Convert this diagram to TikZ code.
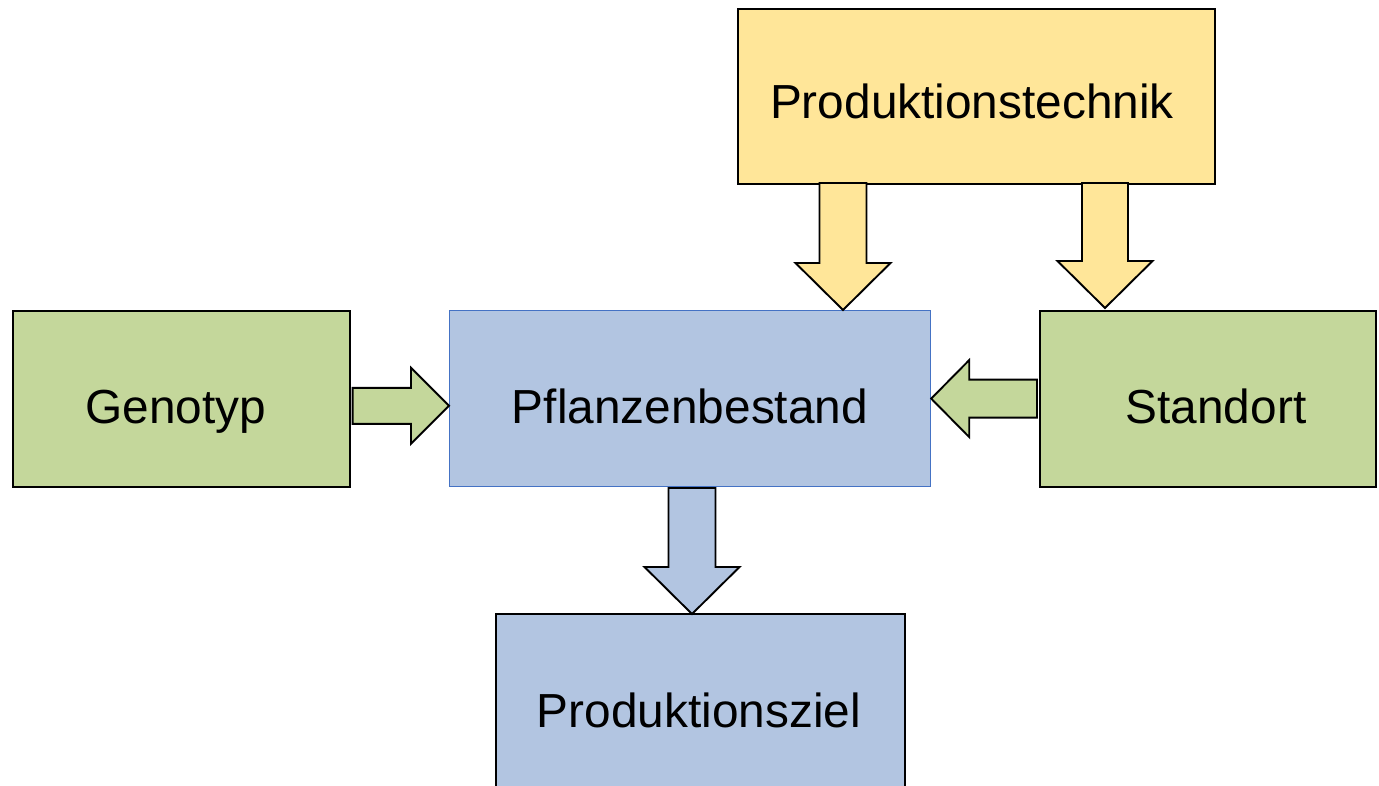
\documentclass[tikz,border=0pt]{standalone}
\usepackage{fontspec}
\setmainfont{Liberation Sans}
\usetikzlibrary{calc}
\definecolor{ylw}{HTML}{FFE699}
\definecolor{grn}{HTML}{C4D79B}
\definecolor{blu}{HTML}{B2C5E1}
\definecolor{bord}{HTML}{4472C4}
\tikzset{
  box/.style={draw=black, line width=1.6pt, inner sep=0pt, minimum width=#1, anchor=north west},
  lbl/.style={font=\fontsize{47.8}{57}\selectfont, inner sep=0pt, anchor=base},
  arr/.style={draw=black, line width=1.9pt, line join=miter},
}
% vertical block arrow: style, top coordinate, tip coordinate, shaft half, head half, head length
\newcommand\vblock[6]{%
  \draw[#1] let \p1=(#2), \p2=(#3) in
    (\x2-#4, \y1) -- (\x2-#4, \y2+#6) -- (\x2-#5, \y2+#6) -- (\x2, \y2)
    -- (\x2+#5, \y2+#6) -- (\x2+#4, \y2+#6) -- (\x2+#4, \y1) -- cycle;}
% horizontal block arrow: style, start, tip, shaft half, head half, head length
\newcommand\hblock[6]{%
  \draw[#1] let \p1=(#2), \p2=(#3), \n1={sign(\x2-\x1)} in
    (\x1, \y2+#4) -- (\x2-\n1*#6, \y2+#4) -- (\x2-\n1*#6, \y2+#5) -- (\x2, \y2)
    -- (\x2-\n1*#6, \y2-#5) -- (\x2-\n1*#6, \y2-#4) -- (\x1, \y2-#4) -- cycle;}
\begin{document}
\begin{tikzpicture}[x=1pt, y=-1pt]
\useasboundingbox (0,0) rectangle (1379,786);
\clip (0,0) rectangle (1379,786);
% boxes
\node[box=477pt, minimum height=175pt, fill=ylw] (tech) at (737,8) {};
\node[box=337pt, minimum height=176pt, fill=grn] (gen) at (12,310) {};
\node[box=481pt, minimum height=176pt, fill=blu, draw=bord, line width=1.2pt] (pfl) at (449,310) {};
\node[box=336pt, minimum height=176pt, fill=grn] (std) at (1039,310) {};
\node[box=409pt, minimum height=200pt, fill=blu] (ziel) at (495,613) {};
% labels
\node[lbl] (techT) at (972,119) {Produktionstechnik};
\node[lbl] (genT) at (176,423) {Genotyp};
\node[lbl] (pflT) at (690,423) {Pflanzenbestand};
\node[lbl] (stdT) at (1216,423) {Standort};
\node[lbl] (zielT) at (699,727) {Produktionsziel};
% connector coordinates
\coordinate (a1s) at ($(gen.east)+(2,7)$);
\coordinate (a1t) at (pfl.west |- a1s);
\coordinate (a2s) at ($(std.west)+(-2,0)$);
\coordinate (a2t) at ($(pfl.east)+(0,0)$);
\coordinate (a3s) at (843,183);
\coordinate (a3t) at (843,310);
\coordinate (a4s) at (1105,183);
\coordinate (a4t) at (1105,308);
\coordinate (a5s) at (692,488);
\coordinate (a5t) at (692,614);
% arrows
\hblock{arr, fill=grn}{a1s}{a1t}{18pt}{38pt}{38pt}
\hblock{arr, fill=grn}{a2s}{a2t}{19pt}{38.5pt}{38pt}
\vblock{arr, fill=ylw}{a3s}{a3t}{23.5pt}{47.5pt}{47pt}
\vblock{arr, fill=ylw}{a4s}{a4t}{23pt}{47.5pt}{47pt}
\vblock{arr, fill=blu}{a5s}{a5t}{23.5pt}{47.5pt}{47pt}
\end{tikzpicture}
\end{document}
